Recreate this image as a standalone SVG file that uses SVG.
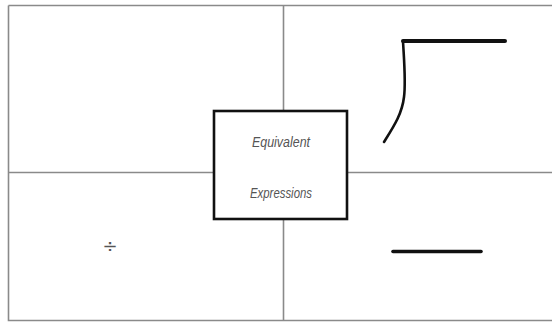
<svg xmlns="http://www.w3.org/2000/svg" width="552" height="322" viewBox="0 0 552 322">
<style>
.grid{stroke:#8a8a8a;stroke-width:1.6;fill:none}
.ink{stroke:#111;fill:none;stroke-linecap:round;stroke-linejoin:round}
.lbl{font-family:"Liberation Sans",Arial,sans-serif;font-style:italic;font-size:15.5px;fill:#555;text-anchor:middle}
</style>
<rect width="552" height="322" fill="#fff"/>
<g id="connectors">
<path class="grid" d="M8.5 5.5 H560 M8.5 5.5 V320.5 H560"/>
<line class="grid" x1="283.5" y1="5.5" x2="283.5" y2="320.5"/>
<line class="grid" x1="8.5" y1="172.5" x2="552" y2="172.5"/>
</g>
<g id="center">
<rect x="214" y="111" width="133" height="108" fill="#fff" stroke="#111" stroke-width="2.6"/>
<text class="lbl" x="281" y="147" textLength="58" lengthAdjust="spacingAndGlyphs">Equivalent</text>
<text class="lbl" x="281" y="198" textLength="62" lengthAdjust="spacingAndGlyphs">Expressions</text>
</g>
<g id="sqrt">
<path class="ink" stroke-width="2.6" d="M403 41 C404 60 406 82 404 97 C402 114 394 126 384 142"/>
<line class="ink" stroke-width="4" x1="403" y1="41" x2="505" y2="41"/>
</g>
<g id="divide">
<text x="110" y="252" font-family="'DejaVu Sans',sans-serif" font-size="18" fill="#555" text-anchor="middle">÷</text>
</g>
<g id="minus">
<line class="ink" stroke-width="3.6" x1="393" y1="251.5" x2="481" y2="251.5"/>
</g>
</svg>
